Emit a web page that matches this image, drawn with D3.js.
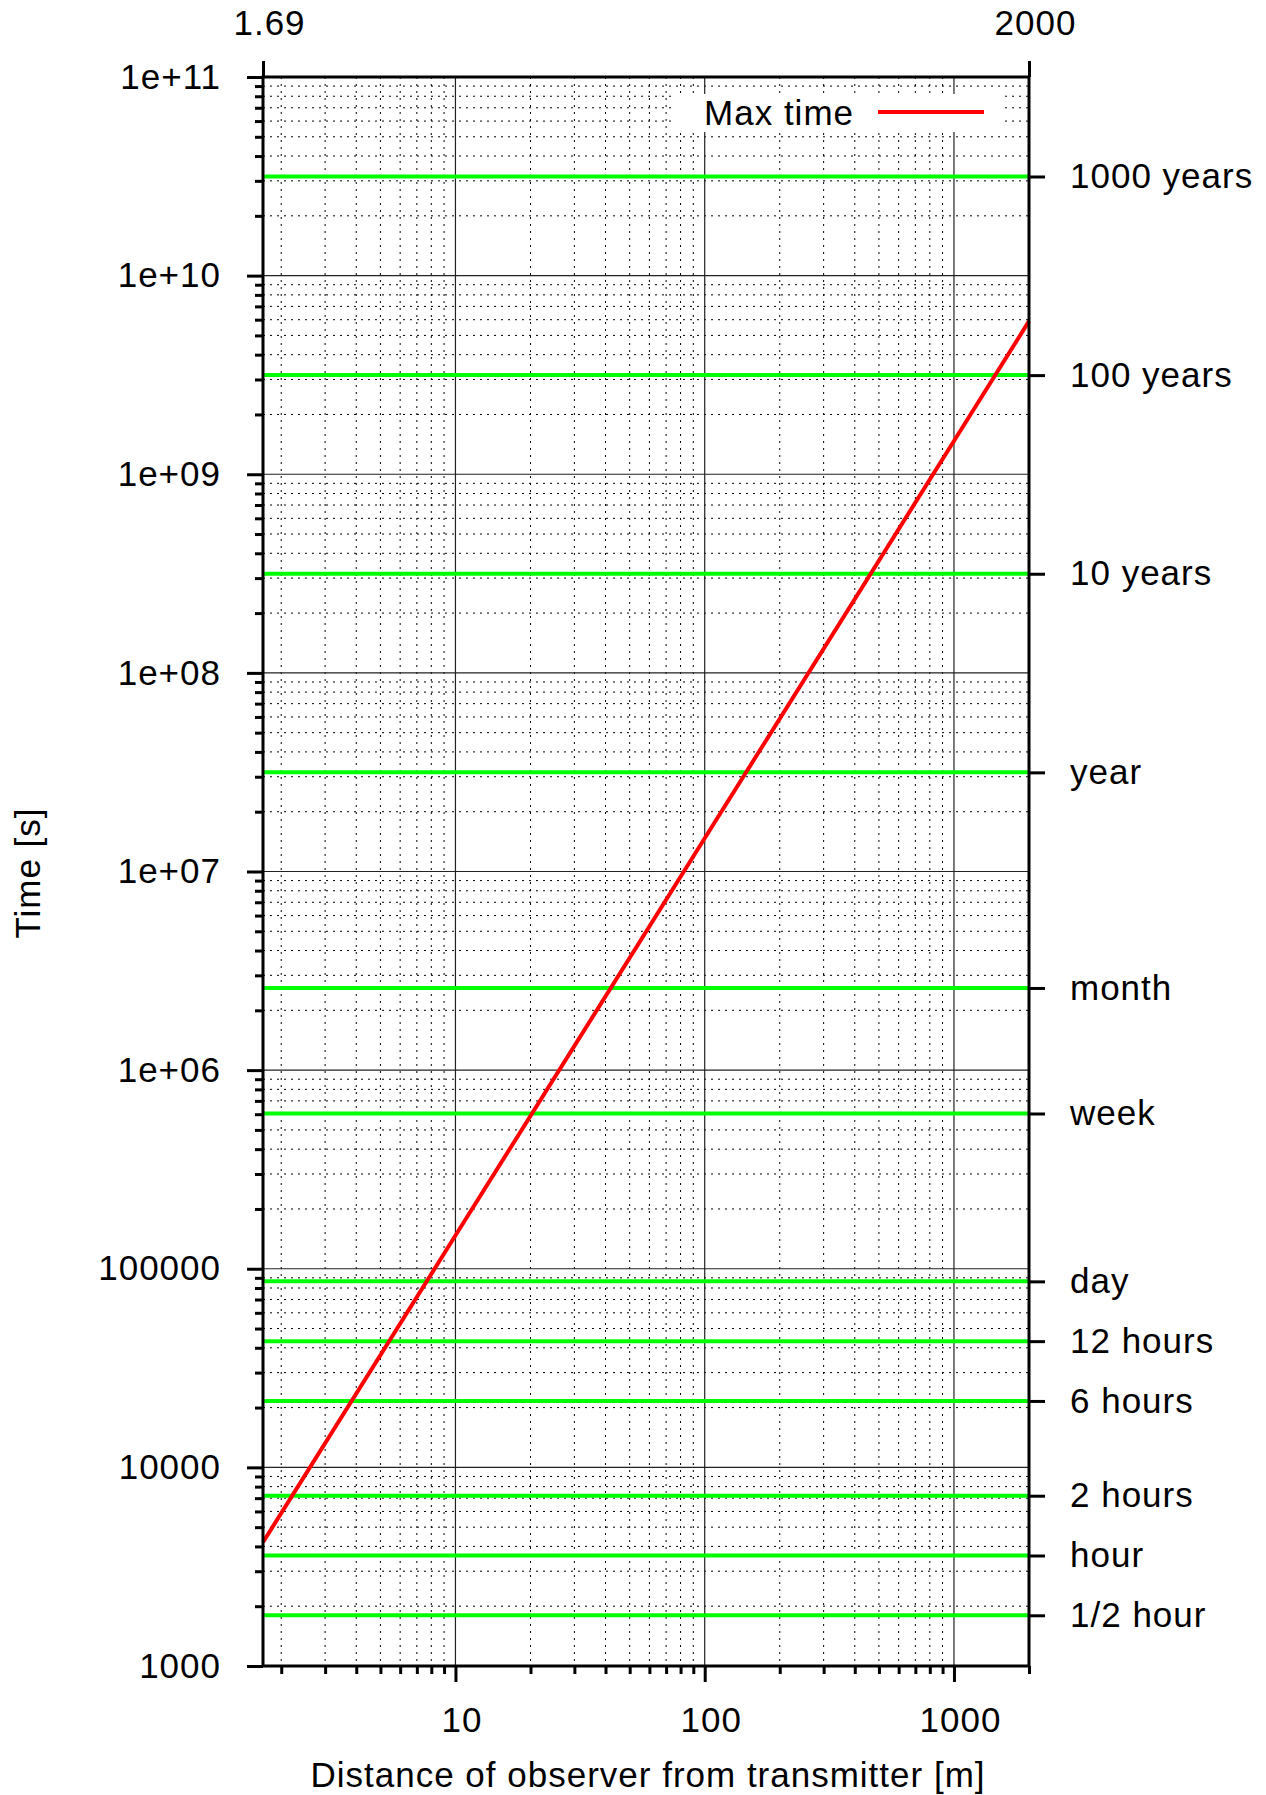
<!DOCTYPE html>
<html>
<head>
<meta charset="utf-8">
<script src="https://cdn.jsdelivr.net/npm/d3@7"></script>
<style>
  body { margin: 0; background: #fff; }
  svg { display: block; font-family: "Liberation Sans", Arial, sans-serif; letter-spacing: 1px; }
  .tick text { font-size: 35px; fill: #000; }
</style>
</head>
<body>
<div id="viz"></div>
<script>
'use strict';

// red curve (distance [m] -> time [s])
var distances = [1.69, 10, 100, 1000, 2000];
var maxTimes = [4200, 147000, 1.47e7, 1.47e9, 5.9e9];

// left axis
var timeTicks = [1e3, 1e4, 1e5, 1e6, 1e7, 1e8, 1e9, 1e10, 1e11];
var timeLabels = ['1000', '10000', '100000', '1e+06', '1e+07', '1e+08', '1e+09', '1e+10', '1e+11'];

// bottom / top axes
var distTicks = [10, 100, 1000];
var distTopTicks = [1.69, 2000];

// green reference lines on the right axis
var markNames = ['1000 years', '100 years', '10 years', 'year', 'month', 'week',
    'day', '12 hours', '6 hours', '2 hours', 'hour', '1/2 hour'];
var markSeconds = [3.15576e10, 3.15576e9, 3.15576e8, 3.15576e7, 2592000, 604800,
    86400, 43200, 21600, 7200, 3600, 1800];

var W = 1266,
    H = 1795;
var plotLeft = 263,
    plotRight = 1029,
    plotTop = 77,
    plotBottom = 1666;

var svg = d3.select('#viz').append('svg')
    .attr('width', W)
    .attr('height', H);
svg.append('rect').attr('width', W).attr('height', H).attr('fill', '#fff');

var x = d3.scaleLog().domain([1.69, 2000]).range([plotLeft, plotRight]);
var y = d3.scaleLog().domain([1e3, 1e11]).range([plotBottom, plotTop]);

function minorsOf(lo, hi) {
    var out = [];
    for (var e = -1; e <= 12; e++) {
        for (var m = 2; m <= 9; m++) {
            var v = m * Math.pow(10, e);
            if (v >= lo && v <= hi * 1.0001) out.push(v);
        }
    }
    return out;
}
var xMinor = minorsOf(1.69, 2000);
var yMinor = minorsOf(1e3, 1e11);

// grid
var grid = svg.append('g').attr('class', 'grid');
grid.selectAll('line.xminor')
    .data(xMinor.filter(d => d < 2000))
    .enter().append('line')
    .attr('x1', d => x(d)).attr('x2', d => x(d))
    .attr('y1', plotTop).attr('y2', plotBottom)
    .attr('stroke', '#000').attr('stroke-width', 1)
    .attr('stroke-dasharray', '2,5');
grid.selectAll('line.yminor')
    .data(yMinor)
    .enter().append('line')
    .attr('x1', plotLeft).attr('x2', plotRight)
    .attr('y1', d => y(d)).attr('y2', d => y(d))
    .attr('stroke', '#000').attr('stroke-width', 1)
    .attr('stroke-dasharray', '2,5');
grid.selectAll('line.xmajor')
    .data(distTicks)
    .enter().append('line')
    .attr('x1', d => x(d)).attr('x2', d => x(d))
    .attr('y1', plotTop).attr('y2', plotBottom)
    .attr('stroke', '#222').attr('stroke-width', 1.2);
grid.selectAll('line.ymajor')
    .data(timeTicks.slice(1, -1))
    .enter().append('line')
    .attr('x1', plotLeft).attr('x2', plotRight)
    .attr('y1', d => y(d)).attr('y2', d => y(d))
    .attr('stroke', '#222').attr('stroke-width', 1.2);

// green marks
svg.append('g').selectAll('line')
    .data(markSeconds)
    .enter().append('line')
    .attr('x1', plotLeft).attr('x2', plotRight)
    .attr('y1', d => y(d)).attr('y2', d => y(d))
    .attr('stroke', '#00ff00').attr('stroke-width', 4);

// red line
var line = d3.line()
    .x((d, i) => x(distances[i]))
    .y(d => y(d));
svg.append('path')
    .datum(maxTimes)
    .attr('d', line)
    .attr('fill', 'none')
    .attr('stroke', '#ff0000')
    .attr('stroke-width', 4);

// key (opaque box)
var key = svg.append('g');
key.append('rect')
    .attr('x', 675).attr('y', 94)
    .attr('width', 330).attr('height', 38)
    .attr('fill', '#fff');
key.append('text')
    .attr('x', 854).attr('y', 125)
    .attr('text-anchor', 'end')
    .style('font-size', '35px')
    .text('Max time');
key.append('line')
    .attr('x1', 878).attr('x2', 984)
    .attr('y1', 112).attr('y2', 112)
    .attr('stroke', '#ff0000').attr('stroke-width', 4);

// frame
svg.append('rect')
    .attr('x', plotLeft).attr('y', plotTop)
    .attr('width', plotRight - plotLeft).attr('height', plotBottom - plotTop)
    .attr('fill', 'none')
    .attr('stroke', '#000')
    .attr('stroke-width', 3);

// axes
function styleAxis(g) {
    g.select('.domain').remove();
    g.selectAll('.tick line').attr('stroke', '#000').attr('stroke-width', 3);
}

svg.append('g')
    .attr('transform', 'translate(' + plotLeft + ',0)')
    .call(d3.axisLeft(y).tickValues(yMinor).tickSize(8).tickFormat(''))
    .call(styleAxis);
svg.append('g')
    .attr('transform', 'translate(' + plotLeft + ',0)')
    .call(d3.axisLeft(y).tickValues(timeTicks).tickSize(16).tickPadding(26)
        .tickFormat((d, i) => timeLabels[i]))
    .call(styleAxis);

svg.append('g')
    .attr('transform', 'translate(0,' + plotBottom + ')')
    .call(d3.axisBottom(x).tickValues(xMinor).tickSize(8).tickFormat(''))
    .call(styleAxis);
svg.append('g')
    .attr('transform', 'translate(0,' + plotBottom + ')')
    .call(d3.axisBottom(x).tickValues(distTicks).tickSize(16).tickPadding(25)
        .tickFormat(d3.format('d')))
    .call(styleAxis)
    .selectAll('text').attr('dx', 6);

svg.append('g')
    .attr('transform', 'translate(0,' + plotTop + ')')
    .call(d3.axisTop(x).tickValues(distTopTicks).tickSize(16).tickPadding(26)
        .tickFormat(d => String(d)))
    .call(styleAxis)
    .selectAll('text').attr('dx', 6);

svg.append('g')
    .attr('transform', 'translate(' + plotRight + ',0)')
    .call(d3.axisRight(y).tickValues(markSeconds).tickSize(16).tickPadding(25)
        .tickFormat((d, i) => markNames[i]))
    .call(styleAxis);

// titles
svg.append('text')
    .attr('x', (plotLeft + plotRight) / 2 + 2)
    .attr('y', 1787)
    .attr('text-anchor', 'middle')
    .style('font-size', '35px')
    .text('Distance of observer from transmitter [m]');

svg.append('text')
    .attr('transform', 'translate(40,873) rotate(-90)')
    .attr('text-anchor', 'middle')
    .style('font-size', '35px')
    .text('Time [s]');
</script>
</body>
</html>
